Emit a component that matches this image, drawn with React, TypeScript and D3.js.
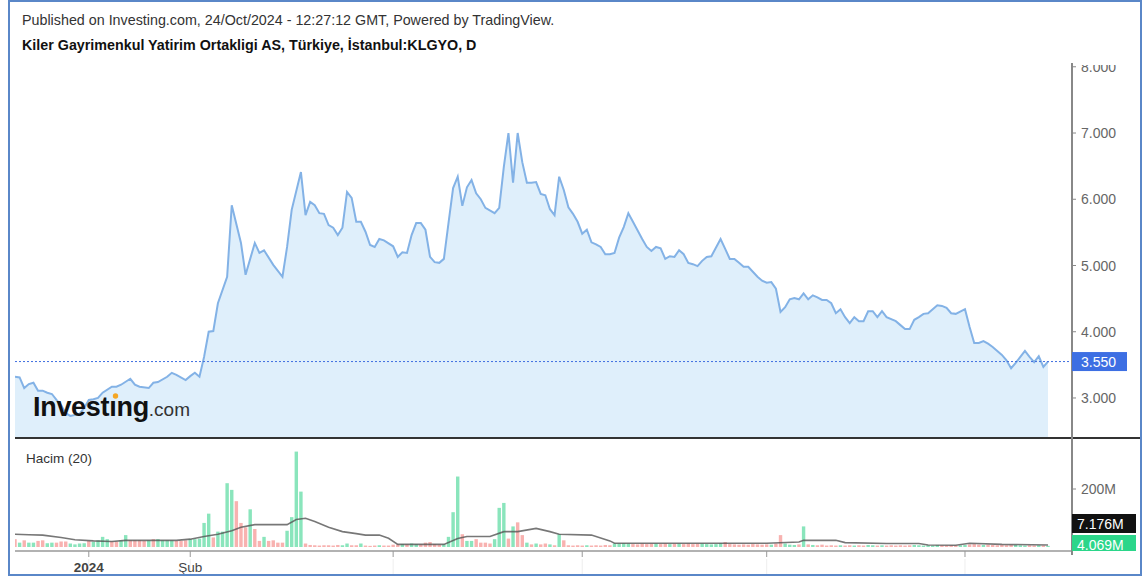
import { useEffect } from "react";
import * as d3 from "d3";

// price line (session index from the first bar, close in TRY)
const sessions = [
  0, 1, 2, 3, 4, 5, 6, 7, 8, 9, 10, 11, 12, 14, 15, 16, 17, 18, 19, 21, 22, 23, 25, 26, 27, 29, 30, 31, 33, 34,
  35, 37, 38, 39, 40, 41, 42, 43, 44, 46, 47, 49, 50, 52, 53, 54, 56, 58, 59, 60, 62, 63, 64, 65, 66, 67, 68, 69,
  70, 71, 72, 73, 74, 75, 76, 77, 78, 79, 80, 82, 83, 84, 85, 86, 87, 88, 89, 90, 91, 92, 93, 94, 95, 96, 97, 98,
  99, 100, 101, 102, 104, 105, 106, 107, 108, 109, 110, 111, 112, 113, 114, 115, 116, 117, 118, 119, 120, 121, 122,
  123, 124, 125, 126, 127, 128, 129, 130, 131, 132, 133, 134, 136, 137, 138, 139, 140, 141, 142, 143, 144, 145, 146,
  147, 148, 149, 150, 151, 153, 154, 155, 156, 157, 158, 159, 161, 162, 163, 164, 165, 166, 167, 168, 169, 170, 171,
  172, 173, 174, 175, 176, 177, 178, 179, 180, 181, 182, 183, 184, 185, 186, 187, 188, 189, 191, 192, 193, 194, 195,
  196, 197, 198, 200, 201, 202, 203, 204, 206, 207, 208, 209, 210, 211, 212, 213, 214, 215, 216, 217, 218, 219, 220,
  221, 222, 223, 224,
];
const closes = [
  3.32, 3.31, 3.15, 3.21, 3.23, 3.11, 3.11, 3.08, 3.06, 2.97, 2.89, 2.77, 2.73, 2.76, 2.85, 2.97, 2.98, 3.0, 3.08,
  3.17, 3.17, 3.2, 3.29, 3.2, 3.17, 3.15, 3.23, 3.24, 3.32, 3.38, 3.35, 3.27, 3.33, 3.38, 3.32, 3.62, 4.0, 4.01,
  4.43, 4.83, 5.91, 5.34, 4.86, 5.34, 5.19, 5.23, 5.01, 4.83, 5.28, 5.84, 6.41, 5.76, 5.96, 5.91, 5.79, 5.78, 5.61,
  5.57, 5.46, 5.57, 6.11, 6.02, 5.66, 5.66, 5.51, 5.31, 5.28, 5.4, 5.38, 5.29, 5.13, 5.2, 5.19, 5.46, 5.64, 5.64,
  5.54, 5.13, 5.05, 5.04, 5.1, 5.64, 6.17, 6.34, 5.9, 6.18, 6.29, 6.09, 6.0, 5.87, 5.79, 5.87, 6.49, 7.0, 6.25, 7.0,
  6.56, 6.25, 6.25, 6.26, 6.08, 6.06, 5.85, 5.76, 6.34, 6.14, 5.88, 5.78, 5.66, 5.48, 5.54, 5.35, 5.32, 5.28, 5.17,
  5.17, 5.19, 5.42, 5.58, 5.79, 5.66, 5.4, 5.28, 5.22, 5.28, 5.26, 5.1, 5.14, 5.13, 5.23, 5.17, 5.04, 5.02, 4.99,
  5.07, 5.13, 5.14, 5.4, 5.25, 5.1, 5.1, 5.04, 4.98, 4.98, 4.83, 4.77, 4.74, 4.75, 4.65, 4.3, 4.37, 4.49, 4.51,
  4.49, 4.58, 4.49, 4.55, 4.52, 4.48, 4.48, 4.43, 4.28, 4.34, 4.22, 4.13, 4.22, 4.16, 4.16, 4.31, 4.31, 4.22, 4.31,
  4.22, 4.16, 4.1, 4.04, 4.04, 4.18, 4.22, 4.27, 4.28, 4.4, 4.39, 4.36, 4.28, 4.27, 4.34, 4.07, 3.83, 3.83, 3.86,
  3.82, 3.77, 3.71, 3.65, 3.57, 3.45, 3.53, 3.62, 3.71, 3.62, 3.54, 3.63, 3.47, 3.55,
];

// daily volume in millions, one per session 0..224
const volumes = [
  27, 15, 23, 15, 15, 21, 23, 13, 15, 15, 19, 19, 12, 9, 12, 13, 21, 18, 23, 35,
  27, 19, 18, 23, 41, 23, 23, 23, 21, 23, 27, 27, 23, 23, 23, 21, 21, 23, 27, 27,
  29, 83, 115, 33, 53, 53, 220, 197, 158, 83, 68, 130, 62, 21, 35, 21, 23, 15, 15, 56,
  103, 329, 191, 12, 7, 6, 5, 6, 6, 5, 7, 6, 12, 6, 6, 12, 5, 4, 5, 6,
  5, 5, 8, 9, 10, 9, 12, 10, 9, 15, 17, 10, 8, 9, 35, 120, 243, 44, 21, 21,
  27, 15, 15, 12, 27, 135, 152, 29, 71, 85, 41, 15, 9, 12, 9, 12, 9, 6, 44, 23,
  6, 5, 6, 5, 6, 5, 6, 5, 7, 6, 12, 12, 13, 12, 10, 9, 12, 10, 11, 12,
  10, 12, 10, 11, 12, 10, 12, 10, 11, 12, 10, 9, 10, 13, 17, 10, 9, 8, 9, 8,
  10, 9, 8, 9, 8, 12, 41, 12, 8, 7, 9, 71, 9, 7, 6, 8, 5, 6, 5, 6,
  5, 6, 5, 6, 5, 7, 6, 5, 6, 5, 6, 5, 6, 5, 6, 7, 6, 5, 6, 5,
  7, 6, 5, 6, 5, 6, 7, 9, 10, 8, 7, 8, 7, 6, 7, 6, 8, 7, 6, 5,
  6, 5, 6, 5, 4,
];
// bar colour per session: G up, R down
const volDir =
  "RGRGGRRGGR" + "RRGGGGRGGG" + "GRRGGRRRRG" + "RGGGGRRRGG" + "GGGRGGGGRR" + "RGRRGRRRRG" +
  "GGGRRRRRRR" + "RGGRRGRRRG" + "RRRRGRGGRR" + "RRRGGGGRGG" + "RRRRGGGRGR" + "RGRGRRGRGR" +
  "RRRRGRRRRR" + "GGGGRRRRRG" + "RRGRGRRRRG" + "GGGGRRRRRR" + "RRRRGRRGGG" + "RGRGRRRRRG" +
  "RRGRRGGRGR" + "RRRRRGGGGG" + "GRRRRGGRRR" + "GRRRRRRGGG" + "RRGRG";

// 20-session volume average
const maSessions = [
  0, 3, 6, 10, 13, 17, 21, 24, 28, 31, 35, 38, 41, 44, 47, 49, 52, 55, 59, 61, 63, 65, 68, 71, 74, 76, 79, 81, 83,
  93, 96, 98, 103, 106, 109, 113, 116, 118, 125, 129, 130, 150, 163, 170, 171, 178, 180, 189, 196, 198, 204, 207,
  214, 224,
];
const maValues = [
  44, 42, 41, 33, 25, 21, 19, 23, 23, 23, 23, 27, 36, 44, 56, 68, 77, 77, 77, 95, 99, 88, 68, 53, 46, 41, 41, 30, 9,
  9, 29, 36, 36, 53, 53, 64, 53, 44, 41, 21, 13, 13, 13, 17, 23, 23, 15, 12, 12, 7, 6, 13, 9, 7,
];

const priceTicks = [3, 4, 5, 6, 7, 8];
const volTicks = [200];
const timeTicks = [16, 38, 82, 123, 163, 206];
const timeLabels = ["2024", "Şub", "", "", "", ""];
const lastClose = 3.55;
const lastVolume = "4.069M";
const lastMa = "7.176M";

const FONT = "'Liberation Sans', Arial, sans-serif";

export default function App() {
  useEffect(() => {
    document.body.style.margin = "0";
  }, []);

  const left = 15;
  const axisX = 1072;
  const priceTop = 63;
  const priceBottom = 437;
  const volTop = 440;
  const volBase = 547;
  const timeY = 551;

  const x = d3.scaleLinear().domain([0, 224]).range([left, 1048]);
  const y = d3.scaleLinear().domain([2.411, 8.057]).range([priceBottom, priceTop]);
  const yv = d3.scaleLinear().domain([0, 200]).range([volBase, 489]);

  const pts: [number, number][] = sessions.map((s, i) => [s, closes[i]]);
  const line = d3.line<[number, number]>().x(d => x(d[0])).y(d => y(d[1]));
  const area = d3
    .area<[number, number]>()
    .x(d => x(d[0]))
    .y0(priceBottom)
    .y1(d => y(d[1]));
  const maLine = d3
    .line<number>()
    .x((_, i) => x(maSessions[i]))
    .y(d => yv(d));

  const step = x(1) - x(0);
  const fmt = d3.format(".3f");

  return (
    <svg width={1144} height={577} style={{ display: "block", fontFamily: FONT }}>
      <defs>
        <clipPath id="pricePane">
          <rect x={left} y={priceTop} width={axisX - left} height={priceBottom - priceTop} />
        </clipPath>
        <clipPath id="volPane">
          <rect x={left} y={volTop} width={axisX - left} height={timeY - volTop} />
        </clipPath>
        <clipPath id="axisClip">
          <rect x={axisX} y={65} width={80} height={timeY - 65} />
        </clipPath>
      </defs>
      <rect width={1144} height={577} fill="#fff" />

      <text x={22} y={25} fontSize={14.3} fill="#333">
        Published on Investing.com, 24/Oct/2024 - 12:27:12 GMT, Powered by TradingView.
      </text>
      <text x={22} y={50} fontSize={14.3} fontWeight="bold" fill="#111">
        Kiler Gayrimenkul Yatirim Ortakligi AS, Türkiye, İstanbul:KLGYO, D
      </text>

      <g clipPath="url(#pricePane)">
        <path d={area(pts) ?? ""} fill="#dfeffb" />
        <path d={line(pts) ?? ""} fill="none" stroke="#83b2e6" strokeWidth={2} />
        <line
          x1={left}
          x2={axisX}
          y1={y(lastClose)}
          y2={y(lastClose)}
          stroke="#3f6fe0"
          strokeWidth={1}
          strokeDasharray="2 2"
        />
      </g>

      <text x={33} y={416} fill="#111">
        <tspan fontSize={27} fontWeight="bold" letterSpacing={-0.3}>
          Investıng
        </tspan>
        <tspan fontSize={19} fill="#333">
          .com
        </tspan>
      </text>
      <circle cx={115.5} cy={396} r={2.7} fill="#f5a623" />

      <line x1={left} x2={1142} y1={438} y2={438} stroke="#333" strokeWidth={2} />

      <text x={26} y={463} fontSize={13.5} fill="#333">
        Hacim (20)
      </text>

      <g clipPath="url(#volPane)">
        {volumes.map((v, i) => (
          <rect
            key={i}
            x={x(i) - step / 2 + 0.6}
            y={yv(v)}
            width={step - 1.2}
            height={volBase - yv(v)}
            fill={volDir[i] === "G" ? "#8ae5bc" : "#f8b2b0"}
          />
        ))}
        <path d={maLine(maValues) ?? ""} fill="none" stroke="#555" strokeOpacity={0.8} strokeWidth={1.6} />
      </g>

      <line x1={left} x2={axisX} y1={timeY} y2={timeY} stroke="#999" strokeWidth={1.5} />
      {timeTicks.map((t, i) => (
        <g key={t}>
          <line x1={x(t)} x2={x(t)} y1={timeY} y2={timeY + 6} stroke="#999" />
          <line x1={x(t)} x2={x(t)} y1={timeY + 8} y2={574} stroke="#eee" />
          {timeLabels[i] && (
            <text
              x={x(t)}
              y={572}
              fontSize={13.5}
              textAnchor="middle"
              fill="#444"
              fontWeight={i === 0 ? "bold" : "normal"}
            >
              {timeLabels[i]}
            </text>
          )}
        </g>
      ))}

      <line x1={axisX} x2={axisX} y1={priceTop} y2={timeY + 4} stroke="#888" strokeWidth={2} />
      <g clipPath="url(#axisClip)">
        {priceTicks.map(t => (
          <g key={t}>
            <line x1={axisX} x2={axisX + 4} y1={y(t)} y2={y(t)} stroke="#888" />
            <text x={1081} y={y(t) + 5} fontSize={14} fill="#666">
              {fmt(t)}
            </text>
          </g>
        ))}
      </g>
      <rect x={axisX} y={y(lastClose) - 9.5} width={55} height={19} fill="#3d6fe3" />
      <text x={1081} y={y(lastClose) + 5} fontSize={14} fill="#fff">
        {fmt(lastClose)}
      </text>

      {volTicks.map(t => (
        <g key={t}>
          <line x1={axisX} x2={axisX + 4} y1={yv(t)} y2={yv(t)} stroke="#888" />
          <text x={1081} y={yv(t) + 5} fontSize={14} fill="#666">
            {t}M
          </text>
        </g>
      ))}
      <rect x={axisX} y={514} width={64} height={19} fill="#111" />
      <text x={1077} y={529} fontSize={14} fill="#fff">
        {lastMa}
      </text>
      <g clipPath="url(#axisClip)">
        <rect x={axisX} y={535} width={64} height={19} fill="#2bd68a" />
        <text x={1077} y={550} fontSize={14} fill="#fff">
          {lastVolume}
        </text>
      </g>

      <rect x={9} y={1} width={1132} height={574} fill="none" stroke="#5a87c8" strokeWidth={2} />
    </svg>
  );
}
